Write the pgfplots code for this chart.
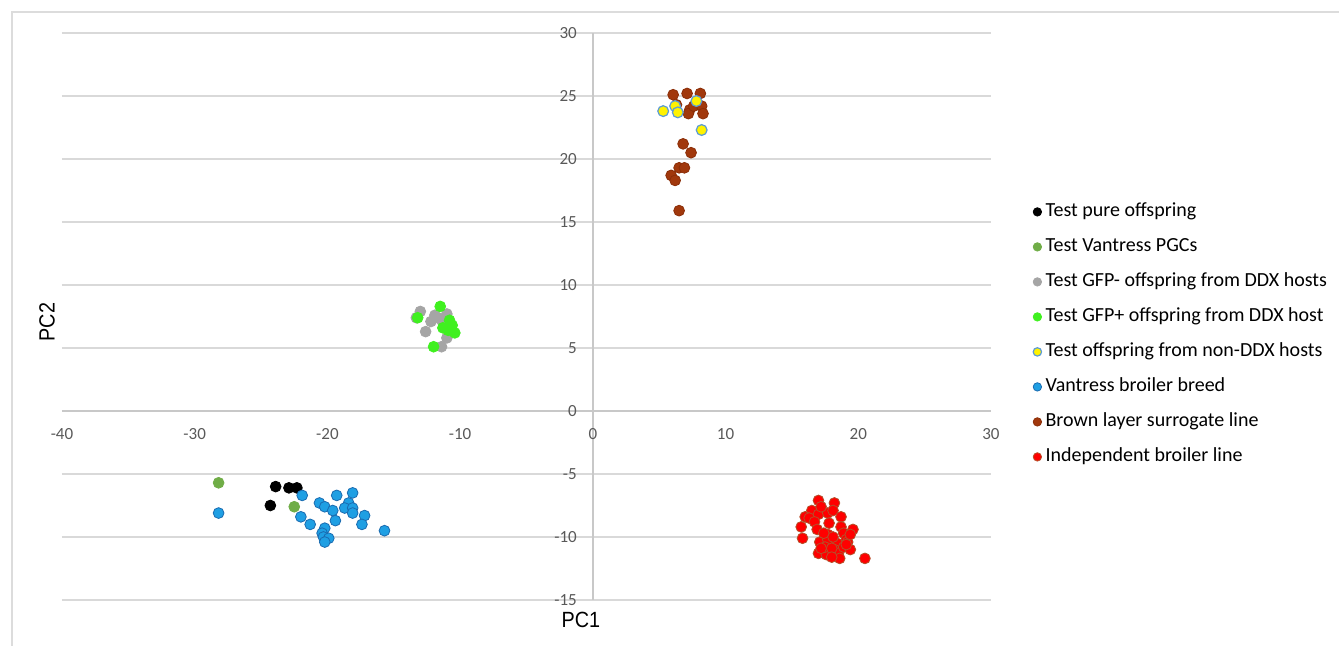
\documentclass[border=0pt]{standalone}
\usepackage{pgfplots}
\pgfplotsset{compat=1.18}
\usepackage{fontspec}
\setmainfont{Carlito}
\newfontfamily\arialfont{Liberation Sans}
\definecolor{axisgray}{HTML}{C8C8C8}
\definecolor{gridgray}{HTML}{D9D9D9}
\definecolor{framegray}{HTML}{DCDCDC}
\definecolor{tickgray}{HTML}{595959}
\definecolor{pgcgreen}{HTML}{70AD47}
\definecolor{gfpgray}{HTML}{A5A5A5}
\definecolor{gfpgreen}{HTML}{40F020}
\definecolor{ringblue}{HTML}{5B9BD5}
\definecolor{vblue}{HTML}{1F9FE3}
\definecolor{vblueedge}{HTML}{1A6BB0}
\definecolor{brownfill}{HTML}{A1380C}
\definecolor{brownedge}{HTML}{8B2E08}
\definecolor{redfill}{HTML}{FF0000}
\definecolor{rededge}{HTML}{B5502A}
\begin{document}
\begin{tikzpicture}
\useasboundingbox (-31pt,-23pt) rectangle (638.5pt,300pt);
\draw[framegray, line width=0.75pt] (-25pt,-23pt) -- (-25pt,294pt) -- (638.5pt,294pt);
\begin{axis}[
  at={(0pt,0pt)}, anchor=south west,
  scale only axis, width=464.5pt, height=283.5pt,
  xmin=-40, xmax=30, ymin=-15, ymax=30,
  axis lines=middle,
  axis line style={draw=axisgray, line width=0.75pt, -},
  xtick={-40,-30,...,30}, ytick={-15,-10,...,30},
  hide obscured x ticks=false, hide obscured y ticks=false,
  major tick length=0pt,
  ymajorgrids, grid style={draw=gridgray, line width=0.75pt},
  ticklabel style={font=\fontsize{8.5}{10}\selectfont, text=tickgray},
  xticklabel style={yshift=-5pt},
  yticklabel style={xshift=-4.5pt},
  /pgf/number format/assume math mode=true,
  clip=false,
  mark size=2.7pt,
  legend image code/.code={\draw[#1, mark size=2.1pt] plot coordinates {(0.1cm,0cm)};},
  legend style={at={(axis description cs:1.045,0.709)}, anchor=north west,
    draw=none, fill=none, font=\fontsize{10}{12}\selectfont,
    row sep=4pt, inner sep=0pt,
    nodes={text height=7pt, text depth=2.5pt, inner sep=2pt}},
  legend cell align=left,
]
\addplot[only marks, mark=*, mark options={fill=black, draw=black}] coordinates {
(-23.9,-6.0) (-22.9,-6.1) (-22.3,-6.1) (-24.3,-7.5)};
\addlegendentry{Test pure offspring}
\addplot[only marks, mark=*, mark options={fill=pgcgreen, draw=pgcgreen}] coordinates {
(-28.2,-5.7) (-22.5,-7.6)};
\addlegendentry{Test Vantress PGCs}
\addplot[only marks, mark=*, mark options={fill=gfpgray, draw=gfpgray}] coordinates {
(-13.0,7.9) (-13.3,7.4) (-11.9,7.6) (-12.2,7.1) (-12.6,6.3) (-11.0,7.7) (-11.3,7.0) (-11.0,5.8) (-11.4,5.1) (-11.7,7.4)};
\addlegendentry{Test GFP- offspring from DDX hosts}
\addplot[only marks, mark=*, mark options={fill=gfpgreen, draw=gfpgreen}] coordinates {
(-11.5,8.3) (-13.2,7.4) (-10.8,7.2) (-11.3,6.6) (-10.6,6.8) (-10.4,6.2) (-12.0,5.1) (-10.9,6.4)};
\addlegendentry{Test GFP+ offspring from DDX host}
\addplot[only marks, mark=*, mark options={fill=brownfill, draw=brownedge}, forget plot] coordinates {
(6.05,25.1) (7.1,25.2) (8.1,25.2) (7.3,23.9) (7.2,23.6) (7.6,24.2) (8.2,24.2) (8.3,23.6) (6.3,24.3) (6.8,21.2) (7.4,20.5) (6.5,19.3) (6.9,19.3) (5.9,18.7) (6.2,18.3) (6.5,15.9)};
\addplot[only marks, mark=*, mark options={fill=yellow, draw=ringblue, line width=0.6pt}] coordinates {
(7.8,24.6) (5.3,23.8) (6.2,24.2) (6.4,23.7) (8.2,22.3)};
\addlegendentry{Test offspring from non-DDX hosts}
\addplot[only marks, mark=*, mark options={fill=vblue, draw=vblueedge}] coordinates {
(-28.2,-8.1) (-21.9,-6.7) (-19.3,-6.7) (-18.1,-6.5) (-20.6,-7.3) (-20.2,-7.6) (-19.6,-7.9) (-18.4,-7.3) (-18.7,-7.7) (-18.1,-7.7) (-18.1,-8.1) (-17.2,-8.3) (-22.0,-8.4) (-19.4,-8.7) (-17.4,-9.0) (-21.3,-9.0) (-15.7,-9.5) (-20.2,-9.3) (-20.4,-9.7) (-20.3,-10.0) (-19.9,-10.1) (-20.2,-10.4)};
\addlegendentry{Vantress broiler breed}
\addlegendimage{only marks, mark=*, mark options={fill=brownfill, draw=brownedge}}
\addlegendentry{Brown layer surrogate line}
\addplot[only marks, mark=*, mark options={fill=redfill, draw=rededge}] coordinates {
(17.0,-7.1) (18.2,-7.3) (16.5,-7.9) (16.0,-8.4) (17.0,-8.2) (17.7,-8.1) (18.1,-7.9) (18.7,-8.4) (16.3,-8.5) (16.7,-8.8) (17.8,-8.9) (15.7,-9.2) (16.9,-9.4) (18.7,-9.2) (19.6,-9.4) (15.8,-10.1) (17.7,-9.8) (18.9,-9.7) (19.1,-10.2) (17.1,-10.4) (17.7,-10.2) (18.4,-10.5) (19.2,-10.4) (17.0,-11.3) (17.6,-11.4) (18.2,-11.0) (18.5,-11.3) (18.9,-10.8) (19.4,-11.0) (18.6,-11.7) (20.5,-11.7) (17.5,-10.8) (18.0,-10.9) (17.2,-10.9) (17.4,-9.7) (18.1,-10.0) (19.1,-10.6) (17.2,-7.6) (18.0,-11.6) (19.4,-9.8)};
\addlegendentry{Independent broiler line}
\end{axis}
\node[font=\arialfont\fontsize{11}{13}\selectfont] at (259.5pt,-10pt) {\scalebox{0.9}[1]{PC1}};
\node[font=\arialfont\fontsize{11}{13}\selectfont, rotate=90] at (-7.5pt,139pt) {\scalebox{0.9}[1]{PC2}};
\end{tikzpicture}
\end{document}
